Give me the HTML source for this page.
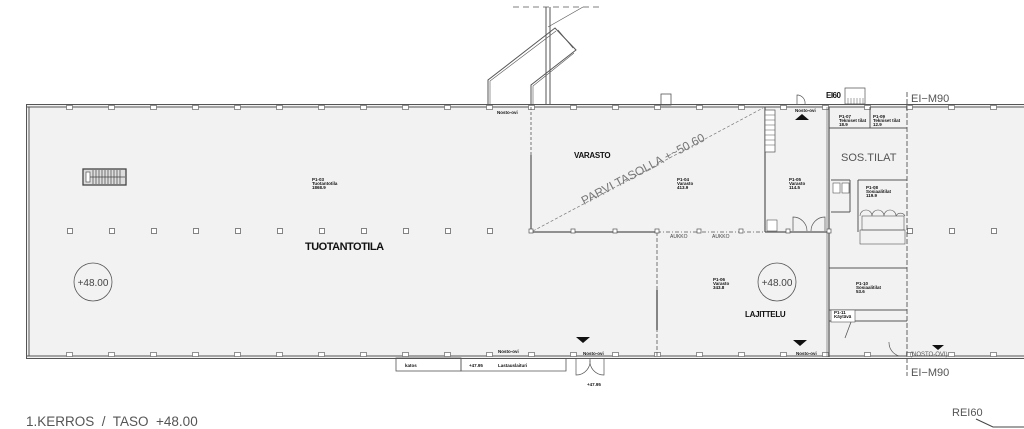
<!DOCTYPE html>
<html><head><meta charset="utf-8"><style>
html,body{margin:0;padding:0;background:#fff;width:1024px;height:429px;overflow:hidden}
svg{display:block}
text{font-family:"Liberation Sans",sans-serif}
</style></head><body>
<svg width="1024" height="429" viewBox="0 0 1024 429" xmlns="http://www.w3.org/2000/svg">
<defs>
<pattern id="col" x="67" y="228" width="42" height="6" patternUnits="userSpaceOnUse">
<rect x="0.5" y="0.5" width="5" height="5" fill="#fff" stroke="#666" stroke-width="0.8"/>
</pattern>
<pattern id="wp" x="66" y="103" width="42" height="8" patternUnits="userSpaceOnUse">
<rect x="0.5" y="2.5" width="6" height="4" fill="#fff" stroke="#666" stroke-width="0.7"/>
</pattern>
<pattern id="wpb" x="66" y="352" width="42" height="8" patternUnits="userSpaceOnUse">
<rect x="0.5" y="0.5" width="6" height="4" fill="#fff" stroke="#666" stroke-width="0.7"/>
</pattern>
</defs>
<rect x="27" y="105" width="1000" height="253" fill="#f2f2f2"/>
<g stroke="#555" fill="none">
<line x1="26" y1="104.5" x2="1024" y2="104.5" stroke-width="1"/>
<line x1="26" y1="107" x2="1024" y2="107" stroke-width="1"/>
<line x1="26" y1="356" x2="1024" y2="356" stroke-width="1"/>
<line x1="26" y1="358.5" x2="1024" y2="358.5" stroke-width="1"/>
<line x1="26.5" y1="104" x2="26.5" y2="359" stroke-width="1"/>
<line x1="29" y1="107" x2="29" y2="356" stroke-width="1"/>
</g>
<rect x="66" y="103" width="960" height="8" fill="url(#wp)"/>
<rect x="66" y="352" width="960" height="8" fill="url(#wpb)"/>
<rect x="67" y="228" width="462" height="6" fill="url(#col)"/>
<rect x="907" y="228" width="120" height="6" fill="url(#col)"/>
<rect x="83" y="169" width="43" height="16" fill="#ddd" stroke="#444" stroke-width="1.3"/>
<rect x="86" y="172" width="4" height="10" fill="#fff" stroke="#555" stroke-width="0.7"/>
<g stroke="#444" stroke-width="0.7">
<line x1="93" y1="170" x2="93" y2="184"/><line x1="96" y1="170" x2="96" y2="184"/><line x1="99" y1="170" x2="99" y2="184"/><line x1="102" y1="170" x2="102" y2="184"/><line x1="105" y1="170" x2="105" y2="184"/><line x1="108" y1="170" x2="108" y2="184"/><line x1="111" y1="170" x2="111" y2="184"/><line x1="114" y1="170" x2="114" y2="184"/><line x1="117" y1="170" x2="117" y2="184"/><line x1="120" y1="170" x2="120" y2="184"/>
<line x1="90" y1="177" x2="125" y2="177"/>
</g>
<g stroke="#555" fill="none" stroke-width="1.2">
<line x1="531" y1="107" x2="531" y2="232" stroke-dasharray="3 2" stroke-width="0.8"/>
<line x1="531" y1="155" x2="531" y2="232"/>
<line x1="531" y1="232" x2="657" y2="232"/>
<line x1="657" y1="232" x2="765" y2="232" stroke-dasharray="4 2 1 2" stroke-width="0.7"/>
<line x1="765" y1="232" x2="829" y2="232"/>
<line x1="765" y1="107" x2="765" y2="232"/>
<line x1="657" y1="232" x2="657" y2="357" stroke-dasharray="4 2" stroke-width="0.8"/>
<line x1="657" y1="290" x2="657" y2="330" stroke-width="1.4"/>
<line x1="829" y1="107" x2="829" y2="357"/>
<line x1="827" y1="107" x2="827" y2="357" stroke-width="0.6"/>
</g>
<line x1="533" y1="231" x2="763" y2="108" stroke="#777" stroke-width="0.7" stroke-dasharray="3 2"/>
<g fill="#fff" stroke="#555" stroke-width="0.7">
<rect x="529" y="229" width="4" height="4"/><rect x="571" y="229" width="4" height="4"/><rect x="613" y="229" width="4" height="4"/><rect x="655" y="229" width="4" height="4"/><rect x="697" y="229" width="4" height="4"/><rect x="739" y="229" width="4" height="4"/><rect x="786" y="229" width="4" height="4"/><rect x="827" y="229" width="4" height="4"/>
</g>
<text x="670" y="238" font-size="5" fill="#444">AUKKO</text>
<text x="712" y="238" font-size="5" fill="#444">AUKKO</text>
<rect x="765" y="110" width="10" height="42" fill="#fff" stroke="#555" stroke-width="0.7"/>
<g stroke="#555" stroke-width="0.5"><line x1="765" y1="115" x2="775" y2="115"/><line x1="765" y1="120" x2="775" y2="120"/><line x1="765" y1="125" x2="775" y2="125"/><line x1="765" y1="130" x2="775" y2="130"/><line x1="765" y1="135" x2="775" y2="135"/><line x1="765" y1="140" x2="775" y2="140"/><line x1="765" y1="145" x2="775" y2="145"/></g>
<rect x="767" y="220" width="10" height="11" fill="#fff" stroke="#555" stroke-width="0.6"/>
<path d="M793 231 v-14 a14 14 0 0 1 14 14 M825 231 v-14 a14 14 0 0 0 -14 14" fill="none" stroke="#555" stroke-width="0.7"/>
<g stroke="#555" fill="none" stroke-width="1">
<line x1="513" y1="7" x2="602" y2="7" stroke-dasharray="6 4" stroke-width="0.7"/>
<line x1="546" y1="7" x2="546" y2="105"/><line x1="550" y1="7" x2="550" y2="105"/>
<line x1="548" y1="27" x2="583" y2="7" stroke-width="0.6"/>
<polyline points="488,105 488,80 555,28 576,50 531,85 531,105"/>
<polyline points="490,105 490,81 556,31" stroke-width="0.6"/>
<polyline points="533,105 533,86 574,53" stroke-width="0.6"/>
<line x1="558" y1="30" x2="573" y2="48" stroke-width="0.6"/>
<rect x="661" y="94" width="10" height="11" stroke-width="0.8"/>
</g>
<g stroke="#555" fill="none" stroke-width="1">
<line x1="907" y1="92" x2="907" y2="376" stroke-dasharray="5 2" stroke-width="0.9"/>
<line x1="829" y1="128" x2="907" y2="128"/>
<line x1="870" y1="107" x2="870" y2="128"/>
<line x1="858" y1="180" x2="907" y2="180"/>
<line x1="831" y1="180" x2="850" y2="180"/>
<line x1="858" y1="180" x2="858" y2="232"/>
<line x1="831" y1="212" x2="850" y2="212"/>
<line x1="850" y1="180" x2="850" y2="212"/>
<line x1="829" y1="268" x2="907" y2="268"/>
<line x1="829" y1="310" x2="907" y2="310"/>
<line x1="829" y1="321" x2="907" y2="321"/>
<rect x="860" y="230" width="45" height="14" stroke-width="0.6"/>
<rect x="862" y="216" width="42" height="14" stroke-width="0.6"/>
<path d="M860 216 a6 6 0 0 1 12 0 M872 216 a6 6 0 0 1 12 0 M884 216 a6 6 0 0 1 12 0 M896 216 a5 5 0 0 1 9 0" stroke-width="0.6"/>
<line x1="851" y1="322" x2="845" y2="338" stroke-width="0.8"/>
<rect x="831" y="310" width="24" height="12" fill="#fff" stroke-width="0.6"/>
<path d="M845 88 h20 v16 h-20 z" stroke-width="0.7"/>
<g stroke-width="0.5"><line x1="848" y1="98" x2="848" y2="104"/><line x1="851" y1="98" x2="851" y2="104"/><line x1="854" y1="98" x2="854" y2="104"/><line x1="857" y1="98" x2="857" y2="104"/><line x1="860" y1="98" x2="860" y2="104"/><line x1="863" y1="98" x2="863" y2="104"/></g>
<path d="M797 104 v-9 a8 8 0 0 1 8 9 M899 356 a14 14 0 0 1 -10 -14" stroke-width="0.7"/>
<path d="M576 359 v16 a14 14 0 0 0 14 -16 M604 359 v16 a14 14 0 0 1 -14 -16" stroke-width="0.7"/>
</g>
<rect x="833" y="183" width="7" height="10" fill="#fff" stroke="#555" stroke-width="0.6"/>
<rect x="842" y="183" width="7" height="10" fill="#fff" stroke="#555" stroke-width="0.6"/>
<g fill="#111">
<path d="M795 120 h14 l-7 -6 z"/>
<path d="M576 337 h14 l-7 6 z"/>
<path d="M793 340 h14 l-7 6 z"/>
<path d="M932 345 h12 l-6 5 z"/>
</g>
<g stroke="#555" fill="none" stroke-width="0.8">
<rect x="396" y="358" width="65" height="13"/>
<polyline points="461,358 461,371 566,371 566,358"/>
</g>
<g fill="#111" font-weight="bold" font-size="4.5">
<text x="497" y="114">Nosto-ovi</text>
<text x="795" y="112">Nosto-ovi</text>
<text x="498" y="353">Nosto-ovi</text>
<text x="583" y="355">Nosto-ovi</text>
<text x="796" y="355">Nosto-ovi</text>
<text x="405" y="367">katos</text>
<text x="469" y="367">+47.95</text>
<text x="498" y="367">Lastauslaituri</text>
<text x="587" y="386">+47.95</text>
<text x="312" y="181">P1-03</text><text x="312" y="185">Tuotantotila</text><text x="312" y="189">1868.9</text>
<text x="677" y="181">P1-04</text><text x="677" y="185">Varasto</text><text x="677" y="189">413.9</text>
<text x="789" y="181">P1-05</text><text x="789" y="185">Varasto</text><text x="789" y="189">114.5</text>
<text x="713" y="281">P1-06</text><text x="713" y="285">Varasto</text><text x="713" y="289">343.8</text>
<text x="866" y="189">P1-08</text><text x="866" y="193">Sosiaalitilat</text><text x="866" y="197">119.9</text>
<text x="856" y="285">P1-10</text><text x="856" y="289">Sosiaalitilat</text><text x="856" y="293">53.6</text>
<text x="839" y="118">P1-07</text><text x="839" y="122">Tekniset tilat</text><text x="839" y="126">18.9</text>
<text x="873" y="118">P1-09</text><text x="873" y="122">Tekniset tilat</text><text x="873" y="126">12.9</text>
<text x="834" y="314">P1-11</text><text x="834" y="318">Käytävä</text>
</g>
<g fill="#111" font-weight="bold">
<text x="305" y="250" font-size="11" letter-spacing="-0.5">TUOTANTOTILA</text>
<text x="574" y="158" font-size="8" letter-spacing="-0.3">VARASTO</text>
<text x="745" y="317" font-size="8" letter-spacing="-0.3">LAJITTELU</text>
<text x="826" y="98" font-size="8" letter-spacing="-0.5">EI60</text>
</g>
<text x="0" y="0" font-size="12" fill="#777" transform="translate(584,205) rotate(-28)">PARVI TASOLLA +~50.60</text>
<circle cx="93" cy="282" r="19" fill="none" stroke="#555" stroke-width="0.8"/>
<text x="93" y="286" font-size="10" fill="#444" text-anchor="middle">+48.00</text>
<circle cx="777" cy="282" r="19" fill="none" stroke="#555" stroke-width="0.8"/>
<text x="777" y="286" font-size="10" fill="#444" text-anchor="middle">+48.00</text>
<text x="841" y="161" font-size="11" fill="#555">SOS.TILAT</text>
<text x="911" y="102" font-size="11" fill="#555">EI−M90</text>
<text x="911" y="376" font-size="11" fill="#555">EI−M90</text>
<text x="910" y="356" font-size="6" fill="#555">(NOSTO-OVI)</text>
<text x="26" y="426" font-size="13.5" fill="#555" xml:space="preserve">1.KERROS  /  TASO  +48.00</text>
<text x="952" y="416" font-size="11" fill="#555">REI60</text>
<polyline points="976,419 993,427 1024,427" fill="none" stroke="#444" stroke-width="1"/>
</svg>
</body></html>
